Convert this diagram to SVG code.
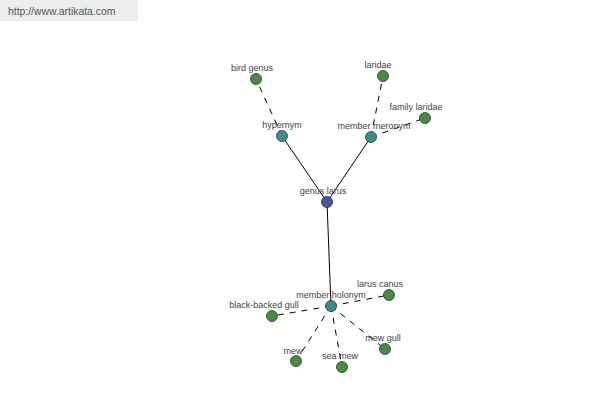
<svg xmlns="http://www.w3.org/2000/svg" width="600" height="400" viewBox="0 0 600 400">
<style>
text{font-family:"Liberation Sans",Arial,sans-serif;font-size:9px;fill:#444;text-anchor:middle}
.wm{font-size:10.4px;fill:#4a5a4a;text-anchor:start}
.s{stroke:#000;stroke-width:1;fill:none}
.d{stroke:#000;stroke-width:1;fill:none;stroke-dasharray:6,6}
.g{fill:#4a8a42;stroke:#2a3a2a;stroke-width:0.8}
.t{fill:#3d8c8c;stroke:#2a3a3a;stroke-width:0.8}
.b{fill:#4a56a0;stroke:#2a2a3a;stroke-width:0.8}
</style>
<rect x="0" y="0" width="600" height="400" fill="#fff"/>
<rect x="0" y="0" width="138" height="21" fill="#eeeeee"/>
<text class="wm" x="8" y="15">http://www.artikata.com</text>
<g id="edges">
<line class="s" x1="327" y1="202" x2="282" y2="136"/>
<line class="s" x1="327" y1="202" x2="371" y2="137"/>
<line class="s" x1="327" y1="202" x2="331" y2="306"/>
<line class="d" x1="282" y1="136" x2="256" y2="79"/>
<line class="d" x1="371" y1="137" x2="383" y2="76"/>
<line class="d" x1="371" y1="137" x2="425" y2="118"/>
<line class="d" x1="331" y1="306" x2="389" y2="295"/>
<line class="d" x1="331" y1="306" x2="272" y2="316"/>
<line class="d" x1="331" y1="306" x2="296" y2="361"/>
<line class="d" x1="331" y1="306" x2="342" y2="367"/>
<line class="d" x1="331" y1="306" x2="385" y2="349"/>
</g>
<g id="genus-larus"><circle class="b" cx="327" cy="202" r="5.5"/><text x="323" y="194">genus larus</text></g>
<g id="hypernym"><circle class="t" cx="282" cy="136" r="5.5"/><text x="282" y="128">hypernym</text></g>
<g id="member-meronym"><circle class="t" cx="371" cy="137" r="5.5"/><text x="374" y="129">member meronym</text></g>
<g id="bird-genus"><circle class="g" cx="256" cy="79" r="5.5"/><text x="252" y="71">bird genus</text></g>
<g id="laridae"><circle class="g" cx="383" cy="76" r="5.5"/><text x="378" y="68">laridae</text></g>
<g id="family-laridae"><circle class="g" cx="425" cy="118" r="5.5"/><text x="416" y="110">family laridae</text></g>
<g id="member-holonym"><circle class="t" cx="331" cy="306" r="5.5"/><text x="331" y="298">member holonym</text></g>
<g id="larus-canus"><circle class="g" cx="389" cy="295" r="5.5"/><text x="380" y="287">larus canus</text></g>
<g id="black-backed-gull"><circle class="g" cx="272" cy="316" r="5.5"/><text x="264" y="308">black-backed gull</text></g>
<g id="mew"><circle class="g" cx="296" cy="361" r="5.5"/><text x="293" y="354">mew</text></g>
<g id="sea-mew"><circle class="g" cx="342" cy="367" r="5.5"/><text x="340" y="359">sea mew</text></g>
<g id="mew-gull"><circle class="g" cx="385" cy="349" r="5.5"/><text x="383" y="341">mew gull</text></g>
</svg>
